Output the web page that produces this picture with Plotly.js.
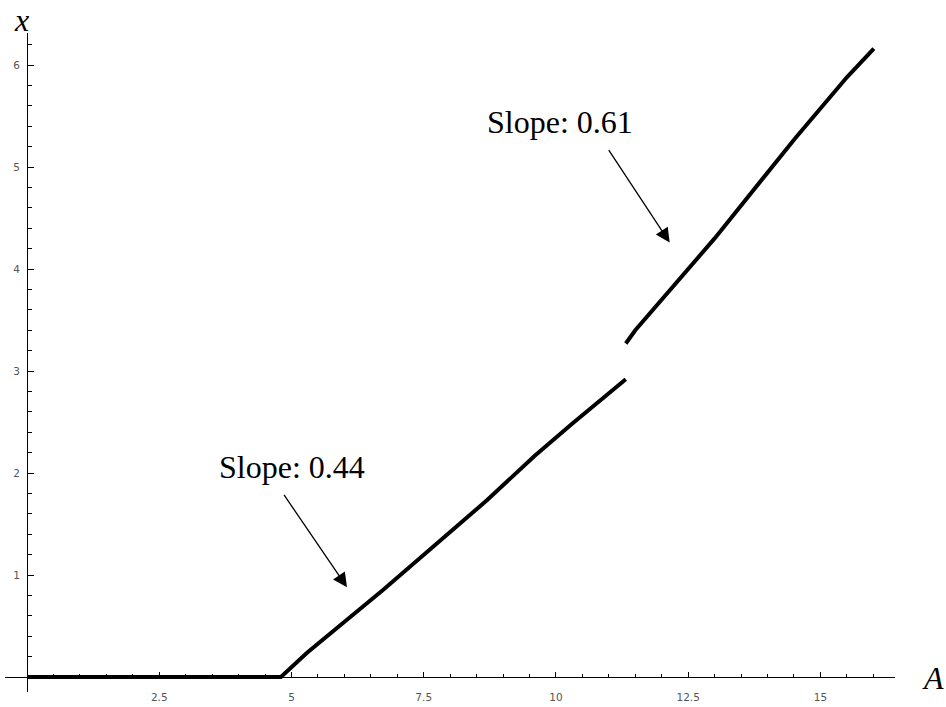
<!DOCTYPE html>
<html>
<head>
<meta charset="utf-8">
<script src="https://cdn.plot.ly/plotly-3.0.1.min.js"></script>
<style>html,body{margin:0;padding:0;background:#fff;}#chart{width:946px;height:707px;}</style>
</head>
<body>
<div id="chart"></div>
<script>
// Lower branch (slope ~0.44)
const lowerA = [0, 4.8, 5.3, 6.73, 8.70, 9.6, 10.3, 11.32];
const lowerX = [0, 0, 0.24, 0.853, 1.735, 2.17, 2.48, 2.92];
// Upper branch (slope ~0.61)
const upperA = [11.32, 11.5, 13.0, 14.52, 15.5, 16.01];
const upperX = [3.27, 3.40, 4.30, 5.28, 5.88, 6.16];

const xTickVals = [2.5, 5, 7.5, 10, 12.5, 15];
const xTickText = ['2.5', '5', '7.5', '10', '12.5', '15'];
const yTickVals = [1, 2, 3, 4, 5, 6];
const yTickText = ['1', '2', '3', '4', '5', '6'];
const slopeLabels = ['Slope: 0.44', 'Slope: 0.61'];

const xRange = [-0.416, 16.41];
const yRange = [-0.147, 6.314];

const xMinor = [];
for (let v = 0.5; v <= 16.01; v += 0.5) xMinor.push(+v.toFixed(2));
const yMinor = [];
for (let v = 0.2; v <= 6.21; v += 0.2) yMinor.push(+v.toFixed(2));

// data -> paper helpers (for labels that sit outside the axis ranges)
const px = a => (a - xRange[0]) / (xRange[1] - xRange[0]);
const py = v => (v - yRange[0]) / (yRange[1] - yRange[0]);

const tickFont = {family: 'DejaVu Sans', size: 10.5, color: '#555555'};
const serif = 'Liberation Serif, Times New Roman, serif';
const bigFont = {family: serif, size: 32, color: '#000'};

const traces = [
  {x: lowerA, y: lowerX, mode: 'lines', line: {color: '#000', width: 4}, cliponaxis: false, hoverinfo: 'skip'},
  {x: upperA, y: upperX, mode: 'lines', line: {color: '#000', width: 4}, cliponaxis: false, hoverinfo: 'skip'}
];

const layout = {
  width: 946, height: 707,
  margin: {l: 5, r: 51, t: 33, b: 15},
  paper_bgcolor: '#fff', plot_bgcolor: '#fff',
  showlegend: false,
  xaxis: {
    range: xRange, anchor: 'free',
    position: py(0),
    showgrid: false, zeroline: false,
    showline: true, linecolor: '#000', linewidth: 1,
    tickmode: 'array', tickvals: xTickVals, ticktext: xTickText,
    ticks: 'inside', ticklen: 5, tickcolor: '#000', tickwidth: 1,
    ticklabelstandoff: 10,
    tickfont: tickFont,
    minor: {tickmode: 'array', tickvals: xMinor, ticks: 'inside', ticklen: 3, tickcolor: '#000', tickwidth: 1, showgrid: false}
  },
  yaxis: {
    range: yRange, anchor: 'free',
    position: px(0),
    showgrid: false, zeroline: false,
    showline: true, linecolor: '#000', linewidth: 1,
    tickmode: 'array', tickvals: yTickVals, ticktext: yTickText,
    ticks: 'inside', ticklen: 6, tickcolor: '#000', tickwidth: 1,
    ticklabelstandoff: 5,
    tickfont: tickFont,
    minor: {tickmode: 'array', tickvals: yMinor, ticks: 'inside', ticklen: 4, tickcolor: '#000', tickwidth: 1, showgrid: false}
  },
  annotations: [
    {x: px(-0.095), y: py(6.44), xref: 'paper', yref: 'paper', text: '<i>x</i>', showarrow: false,
     font: bigFont, xanchor: 'center', yanchor: 'middle'},
    {x: px(17.13), y: py(-0.01), xref: 'paper', yref: 'paper', text: '<i>A</i>', showarrow: false,
     font: bigFont, xanchor: 'center', yanchor: 'middle'},
    {x: 5.01, y: 2.06, xref: 'x', yref: 'y', text: slopeLabels[0], showarrow: false,
     font: bigFont, xanchor: 'center', yanchor: 'middle'},
    {x: 10.08, y: 5.44, xref: 'x', yref: 'y', text: slopeLabels[1], showarrow: false,
     font: bigFont, xanchor: 'center', yanchor: 'middle'},
    {x: 6.05, y: 0.88, ax: 4.84, ay: 1.80, xref: 'x', yref: 'y', axref: 'x', ayref: 'y',
     text: '', showarrow: true, arrowhead: 2, arrowsize: 2.2, arrowwidth: 1.3, arrowcolor: '#000', standoff: 0},
    {x: 12.15, y: 4.26, ax: 10.98, ay: 5.18, xref: 'x', yref: 'y', axref: 'x', ayref: 'y',
     text: '', showarrow: true, arrowhead: 2, arrowsize: 2.2, arrowwidth: 1.3, arrowcolor: '#000', standoff: 0}
  ]
};

Plotly.newPlot('chart', traces, layout, {displayModeBar: false, staticPlot: true});
</script>
</body>
</html>
